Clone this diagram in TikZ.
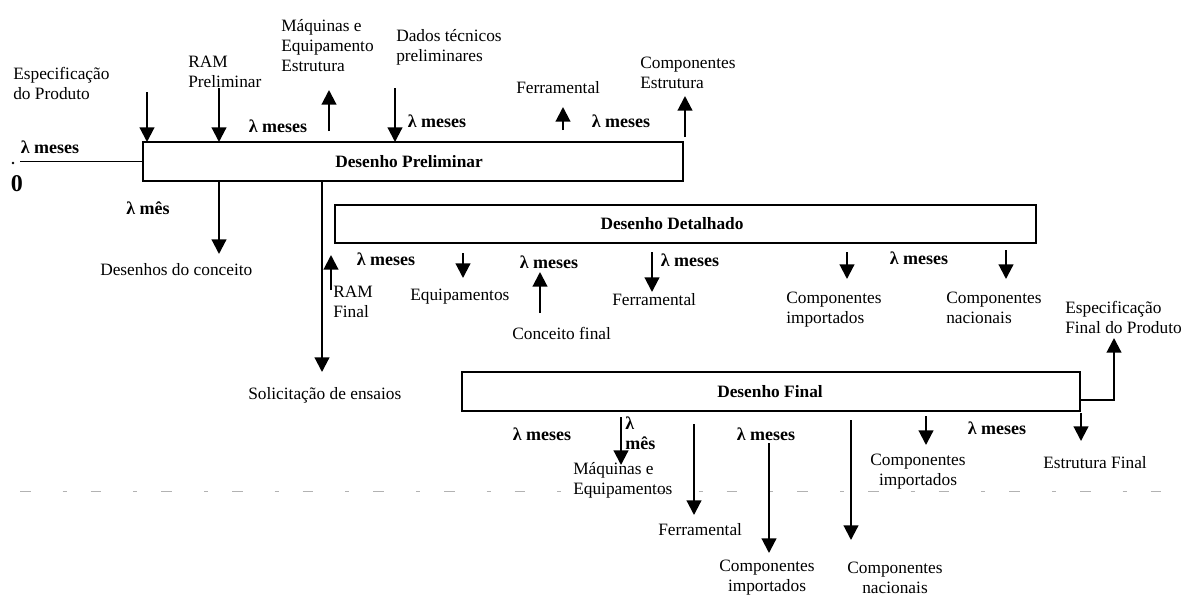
\documentclass[tikz,border=0pt]{standalone}
\usepackage{fontspec}
\setmainfont{Liberation Serif}
\usetikzlibrary{arrows.meta}
\begin{document}
\begin{tikzpicture}[x=0.75pt,y=-0.75pt,
  lbl/.style={font=\fontsize{13}{15}\selectfont, inner sep=0pt, align=left},
  lblc/.style={font=\fontsize{13}{15}\selectfont, inner sep=0pt, align=center},
  lam/.style={font=\fontsize{13.5}{15}\selectfont\bfseries, inner sep=0pt, align=left},
  boxtxt/.style={font=\fontsize{13}{15}\selectfont\bfseries, inner sep=0pt},
  box/.style={draw, line width=1.6pt, inner sep=0pt, outer sep=0pt},
  arr/.style={line width=1.6pt, -{Triangle[width=11pt,length=11pt]}},
  thinln/.style={line width=1pt},
  scan/.style={gray!60, line width=0.6pt, dash pattern=on 8pt off 24pt on 3pt off 18pt}]
\useasboundingbox (0,0) rectangle (1184,597);

% faint scan line
\coordinate (s1) at (20,491);
\coordinate (s2) at (1170,491);
\draw[scan] (s1) -- (s2);

% boxes
\node[box, minimum width=405pt, minimum height=29.25pt] (pre) at (413,161.5) {};
\node[boxtxt] (pretxt) at (409,162) {Desenho Preliminar};
\node[box, minimum width=525.75pt, minimum height=28.5pt] (det) at (685.5,224) {};
\node[boxtxt] (dettxt) at (672,224) {Desenho Detalhado};
\node[box, minimum width=463.5pt, minimum height=29.25pt] (fin) at (771,391.5) {};
\node[boxtxt] (fintxt) at (770,392) {Desenho Final};

% start line
\coordinate (z0) at (20,161.5);
\draw[thinln] (z0) -- (pre.west);
\fill (13,163) circle (1.3);
\node[lam] (l0) at (50,147) {λ meses};
\node[font=\fontsize{18}{20}\selectfont\bfseries, inner sep=0pt] (zero) at (17,184) {0};

% ---- top of Desenho Preliminar
\coordinate (a1) at (147,92);
\draw[arr] (a1) -- (a1 |- pre.north);
\node[lbl, anchor=west] (spec) at (13,83) {Especificação\\do Produto};

\coordinate (a2) at (219,88);
\draw[arr] (a2) -- (a2 |- pre.north);
\node[lbl, anchor=west] (ramp) at (188,72) {RAM\\Preliminar};

\coordinate (a3s) at (329,131);
\coordinate (a3e) at (329,90);
\draw[arr] (a3s) -- (a3e);
\node[lbl, anchor=west] (maq) at (281,46) {Máquinas e\\Equipamento\\Estrutura};
\node[lam] (l1) at (278,126) {λ meses};

\coordinate (a4) at (395,88);
\draw[arr] (a4) -- (a4 |- pre.north);
\node[lbl, anchor=west] (dados) at (396,47) {Dados técnicos\\preliminares};
\node[lam] (l2) at (437,121) {λ meses};

\coordinate (a5s) at (563,130);
\coordinate (a5e) at (563,107);
\draw[arr] (a5s) -- (a5e);
\node[lbl, anchor=west] (ferr1) at (516,88) {Ferramental};
\node[lam] (l3) at (621,121) {λ meses};

\coordinate (a6s) at (685,137);
\coordinate (a6e) at (685,96);
\draw[arr] (a6s) -- (a6e);
\node[lbl, anchor=west] (compe) at (640,73) {Componentes\\Estrutura};

% ---- bottom of Desenho Preliminar
\coordinate (b1x) at (219,254);
\draw[arr] (b1x |- pre.south) -- (b1x);
\node[lam] (l4) at (148,208) {λ mês};
\node[lbl, anchor=west] (desc) at (100,270) {Desenhos do conceito};

\coordinate (b2x) at (322,372);
\draw[arr] (b2x |- pre.south) -- (b2x);
\node[lbl, anchor=west] (solic) at (248,395) {Solicitação de ensaios};

\coordinate (b3s) at (331,290);
\coordinate (b3e) at (331,255);
\draw[arr] (b3s) -- (b3e);
\node[lbl, anchor=west] (ramf) at (333,302) {RAM\\Final};
\node[lam] (l5) at (386,259) {λ meses};

% ---- bottom of Desenho Detalhado
\coordinate (c1s) at (463,253);
\coordinate (c1e) at (463,278);
\draw[arr] (c1s) -- (c1e);
\node[lbl, anchor=west] (equip) at (410,297) {Equipamentos};
\node[lam] (l6) at (549,262) {λ meses};

\coordinate (c2s) at (540,313);
\coordinate (c2e) at (540,272);
\draw[arr] (c2s) -- (c2e);
\node[lbl, anchor=west] (conc) at (512,333) {Conceito final};

\coordinate (c3s) at (652,252);
\coordinate (c3e) at (652,292);
\draw[arr] (c3s) -- (c3e);
\node[lam] (l7) at (690,260) {λ meses};
\node[lbl, anchor=west] (ferr2) at (612,300) {Ferramental};

\coordinate (c4s) at (847,252);
\coordinate (c4e) at (847,279);
\draw[arr] (c4s) -- (c4e);
\node[lbl, anchor=west] (cimp1) at (786,310) {Componentes\\importados};
\node[lam] (l8) at (919,258) {λ meses};

\coordinate (c5s) at (1006,250);
\coordinate (c5e) at (1006,279);
\draw[arr] (c5s) -- (c5e);
\node[lbl, anchor=west] (cnac1) at (946,308) {Componentes\\nacionais};

% ---- right of Desenho Final
\coordinate (d0) at (1080,400);
\coordinate (d1) at (1114,400);
\coordinate (d2) at (1114,338);
\draw[arr] (d0) -- (d1) -- (d2);
\node[lbl, anchor=west] (espf) at (1065,317) {Especificação\\Final do Produto};

% ---- bottom of Desenho Final
\node[lam] (l9) at (542,434) {λ meses};
\coordinate (e1s) at (621,417);
\coordinate (e1e) at (621,465);
\draw[arr] (e1s) -- (e1e);
\node[lam, anchor=west] (l10) at (625,433) {λ\\mês};
\node[lbl, anchor=west] (maqe) at (573,480) {Máquinas e\\Equipamentos};

\coordinate (e2s) at (694,424);
\coordinate (e2e) at (694,515);
\draw[arr] (e2s) -- (e2e);
\node[lbl, anchor=west] (ferr3) at (658,530) {Ferramental};
\node[lam] (l11) at (766,434) {λ meses};

\coordinate (e3s) at (769,443);
\coordinate (e3e) at (769,553);
\draw[arr] (e3s) -- (e3e);
\node[lblc] (cimp2) at (767,578) {Componentes\\importados};

\coordinate (e4s) at (851,420);
\coordinate (e4e) at (851,540);
\draw[arr] (e4s) -- (e4e);
\node[lblc] (cnac2) at (895,578) {Componentes\\nacionais};

\coordinate (e5s) at (926,416);
\coordinate (e5e) at (926,445);
\draw[arr] (e5s) -- (e5e);
\node[lblc] (cimp3) at (918,472) {Componentes\\importados};
\node[lam] (l12) at (997,428) {λ meses};

\coordinate (e6s) at (1081,413);
\coordinate (e6e) at (1081,441);
\draw[arr] (e6s) -- (e6e);
\node[lbl, anchor=west] (estf) at (1043,463) {Estrutura Final};
\end{tikzpicture}
\end{document}
